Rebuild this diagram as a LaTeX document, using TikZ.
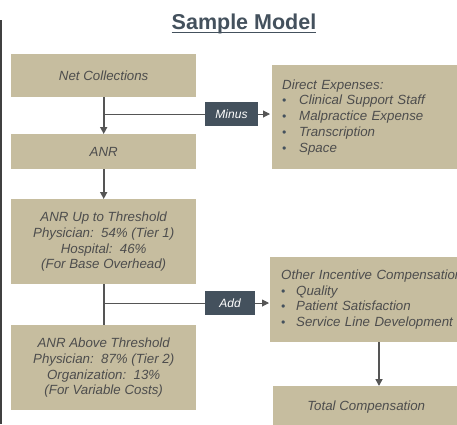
\documentclass[tikz,border=0pt]{standalone}
\usepackage{fontspec}
\setmainfont{Liberation Sans}
\usetikzlibrary{arrows.meta}
\definecolor{tan}{HTML}{C6BD9F}
\definecolor{slate}{HTML}{44515D}
\definecolor{txt}{HTML}{4D4D4D}
\definecolor{conn}{HTML}{555555}
\newcommand{\bul}[1]{\makebox[#1][l]{\color{slate}\fontsize{12}{12}\selectfont\textbullet}}
\begin{document}
\begin{tikzpicture}[x=1pt,y=-1pt,
  box/.style={fill=tan, draw=none, inner sep=0pt, anchor=north west,
    font=\itshape\fontsize{13.3}{15.7}\selectfont, text=txt, align=center},
  listbox/.style={box, align=left, inner xsep=10pt, text width=184pt},
  tag/.style={fill=slate, text=white, inner sep=0pt,
    font=\itshape\fontsize{12}{14}\selectfont},
  vlink/.style={draw=conn, line width=1.6pt},
  hlink/.style={draw=conn, line width=1pt},
  tip/.style={-{Triangle[length=7pt,width=7pt]}}
]
\useasboundingbox (0,0) rectangle (457,424);

% margin rule and heading
\draw[draw=black!75, line width=1.5pt] (1,20) -- (1,424);
\node[anchor=base, inner sep=0pt, text=slate, font=\bfseries\fontsize{21.5}{26}\selectfont]
  (title) at (244,29.5) {Sample Model};
\draw[slate, line width=1pt] ([yshift=-2.6pt]title.base west) -- ([yshift=-2.6pt]title.base east);

% left column
\node[box, minimum width=185pt, minimum height=43pt] (net) at (11,54) {Net Collections};
\node[box, minimum width=185pt, minimum height=35pt] (anr) at (11,134) {ANR};
\node[box, minimum width=185pt, minimum height=85pt] (up) at (11,199)
  {ANR Up to Threshold\\Physician:\ \ 54\% (Tier 1)\\Hospital:\ \ 46\%\\(For Base Overhead)};
\node[box, minimum width=185pt, minimum height=85pt] (above) at (11,325)
  {ANR Above Threshold\\Physician:\ \ 87\% (Tier 2)\\Organization:\ \ 13\%\\(For Variable Costs)};

% right column
\node[listbox, minimum height=104pt] (direct) at (272,65)
  {Direct Expenses:\\
   \bul{17pt}Clinical Support Staff\\
   \bul{17pt}Malpractice Expense\\
   \bul{17pt}Transcription\\
   \bul{17pt}Space};
\node[listbox, minimum height=85pt, inner xsep=11pt] (other) at (270,257)
  {Other Incentive Compensation\\
   \bul{15pt}Quality\\
   \bul{15pt}Patient Satisfaction\\
   \bul{15pt}Service Line Development};
\node[box, minimum width=186pt, minimum height=42pt] (total) at (273,386) {Total Compensation};

% operation tags
\node[tag, minimum width=53pt, minimum height=24pt] (minus) at (231.5,114) {Minus};
\node[tag, minimum width=50pt, minimum height=24pt] (add) at (230,303) {Add};

% connectors
\draw[vlink, tip] (net) -- (anr);
\draw[vlink, tip] (anr) -- (up);
\draw[vlink] (up) -- (above);
\coordinate (j1) at (net.south |- minus);
\coordinate (j2) at (up.south |- add);
\draw[hlink] (j1) -- (minus.west);
\draw[hlink, tip, shorten >=2pt] (minus.east) -- (direct.west |- minus);
\draw[hlink] (j2) -- (add.west);
\draw[hlink, tip, shorten >=1pt] (add.east) -- (other.west |- add);
\coordinate (ot) at (379,342);
\draw[vlink, tip] (ot) -- (ot |- total.north);
\end{tikzpicture}
\end{document}
